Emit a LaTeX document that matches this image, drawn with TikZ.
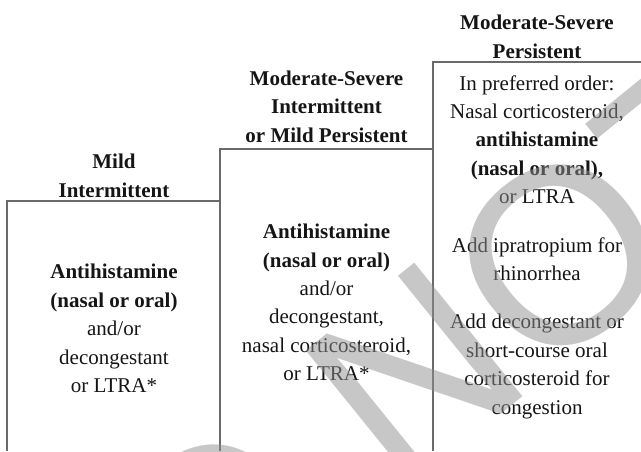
\documentclass[tikz,border=0pt]{standalone}
\usepackage{fontspec}
\setmainfont{Liberation Serif}
\newfontfamily\wmfont{Liberation Sans}
\usepackage{xcolor}
\definecolor{ruleline}{HTML}{6A6A6A}
\definecolor{inkdark}{HTML}{151515}
\definecolor{wmgray}{HTML}{8F8F8F}
\usepackage{tikz}
\usetikzlibrary{positioning}

\begin{document}
\begin{tikzpicture}[
  x=1pt, y=-1pt,
  font=\fontsize{21}{28.4}\selectfont,
  stair/.style={draw=ruleline, line width=1.3pt},
  headtxt/.style={text=inkdark, align=center, inner sep=0pt,
    font=\fontsize{21}{28.4}\selectfont\bfseries},
  bodytxt/.style={text=inkdark, align=center, inner sep=0pt},
  stamp/.style={text=wmgray, opacity=0.5, inner sep=0pt,
    font=\fontsize{250}{250}\selectfont\wmfont},
]

% === FRAME ===
\clip (0,0) rectangle (641,451);

% === STAIRCASE LINES ===
\draw[stair] (7,451) |- (220,201);
\draw[stair] (220,451) |- (433,149);
\draw[stair] (433,451) |- (641,62);

% === HEADERS ===
\node[headtxt] (hmild) at (114,176) {Mild\\Intermittent};
\node[headtxt] (hmod)  at (326.5,106.5) {Moderate-Severe\\Intermittent\\or Mild Persistent};
\node[headtxt] (hsev)  at (537,37) {Moderate-Severe\\Persistent};

% === TREATMENTS ===
\node[bodytxt] (tmild) at (114,328.5)
  {\textbf{Antihistamine}\\\textbf{(nasal or oral)}\\and/or\\decongestant\\or LTRA*};
\node[bodytxt] (tmod) at (326.5,302.5)
  {\textbf{Antihistamine}\\\textbf{(nasal or oral)}\\and/or\\decongestant,\\nasal corticosteroid,\\or LTRA*};
\node[bodytxt] (tsev) at (537,247)
  {In preferred order:\\Nasal corticosteroid,\\\textbf{antihistamine}\\\textbf{(nasal or oral),}\\or LTRA\\[20pt]
   Add ipratropium for\\rhinorrhea\\[20pt]
   Add decongestant or\\short-course oral\\corticosteroid for\\congestion};

% === WATERMARK ===
\node[stamp, anchor=base west, rotate=39] (wm) at (53,777) {DO NOT};

\end{tikzpicture}
\end{document}
